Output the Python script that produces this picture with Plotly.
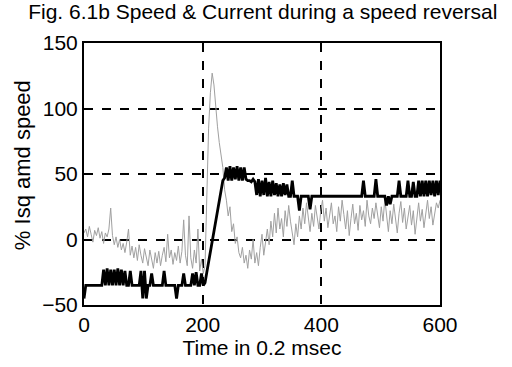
import plotly.graph_objects as go

# time axis in 0.2 msec steps (sampled every 3 units)
time = list(range(0, 601, 3))

speed = [
    -45, -35, -35, -35, -35, -35, -35, -35, -35, -35, -35,
    -23, -35, -22, -35, -23, -35, -23, -35, -22, -35, -23,
    -35, -24, -35, -35, -24, -35, -35, -35, -35, -35,
    -24, -45, -24, -45, -35, -35, -26, -35,
    -35, -35, -35, -35, -35, -24, -35,
    -35, -35, -35, -35, -35, -45, -35,
    -35, -35, -26, -35, -35, -35, -35, -26, -35, -25, -35, -35, -26, -35, -33,
    -25, -17, -9, -1, 7, 16, 24, 32, 39, 45,
    47, 55, 45, 56, 45, 55, 46, 56, 45, 55, 45, 55, 46, 45,
    45, 44, 46, 44,
    34, 46, 33, 45, 34, 47, 33, 44, 33, 45, 34, 43, 33, 42, 33, 43, 34, 42, 33,
    33, 45, 33, 33, 33, 22, 33, 33, 33, 33, 33, 23, 33, 33, 33, 33, 33, 33, 33, 33, 33,
    33, 33, 33, 33, 33, 33, 33, 33, 33, 33, 33, 33, 33, 33, 33, 33, 33, 33, 33, 33,
    45, 33, 33, 33, 33, 33, 33, 46, 33, 33, 33, 33, 33, 26, 33, 27, 33, 33, 33, 33, 45,
    33, 33, 33, 33, 45, 33, 33, 44, 33, 33, 45, 33,
    45, 33, 45, 33, 45, 34, 45, 33, 45, 34, 45, 45,
]

current = [
    5, 8, 2, 10, 4, -2, 7, 3, 9, 1, 6, -3, 5, 2,
    8, 24, 3, -4, 2, -6, 0, -8, -3, -10, -2, 8, -12, -5, -14, -6,
    -16, -4, -12, -18, -7, -14, -20, -8, -15, -22, -10,
    -18, -9, -20, -12, -6, -17, 4, -14, -8, -19, -10, -16, -5, -18, -9,
    15, -12, -20, 18, -14, -22, -8, -18, 8, -24, -15, -26, -20,
    40, 85, 112, 127, 118, 98, 86, 74, 64, 55, 38, 30, 18, 25, 6, 12,
    -3, 2, -10, -14, -6, -18, -12, -22, -8, -15, 0, -18, -10, -20, -6,
    4, -12, -2, 8, -4, 14, 2, 20, 5, 24, 8, 16, 2, 22, 10, 26, 14,
    4, -4, 12, 2, 18, 8, 24, 12, 28, 15, 6, 20, 10, 26, 16, 8, 22,
    30, 14, 24, 9, 20, 28, 12, 18, 6, 25, 14, 30, 19, 8, 22, 3, 16,
    27, 12, 20, 7, 26, 15, 22, 10, 30, 18, 12, 24, 16, 28, 20, 9, 25,
    14, 31, 18, 6, 22, 12, 27, 17, 5, 20, 29, 13, 24, 8, 18, 26, 11,
    22, 4, 19, 28, 14, 23, 9, 20, 30, 16, 25, 11, 21, 28, 24, 30,
]

x_ticks = [0, 200, 400, 600]
y_ticks = [-50, 0, 50, 100, 150]

fig = go.Figure()
fig.add_trace(go.Scatter(x=time, y=current, mode="lines",
                         line=dict(color="#a0a0a0", width=1), showlegend=False))
fig.add_trace(go.Scatter(x=time, y=speed, mode="lines",
                         line=dict(color="black", width=2.8), showlegend=False))

fig.update_layout(
    width=512, height=367,
    margin=dict(l=84, r=72, t=43, b=62),
    paper_bgcolor="white", plot_bgcolor="white",
    font=dict(family="Liberation Sans, Arial, sans-serif", color="black"),
    title=dict(text="Fig. 6.1b Speed & Current during a speed reversal",
               x=0.055, xanchor="left", y=0.988, yanchor="top",
               font=dict(size=21, color="black")),
    annotations=[dict(text="% Isq amd speed", xref="paper", yref="paper",
                      x=-0.174, y=0.534, xanchor="center", yanchor="middle",
                      textangle=-90, showarrow=False,
                      font=dict(size=22, color="black"))],
)
fig.update_xaxes(range=[0, 600], tickvals=x_ticks, ticks="", showline=True,
                 linecolor="black", linewidth=2, mirror=True, automargin=False,
                 showgrid=True, gridcolor="black", griddash="dash", gridwidth=1.5,
                 zeroline=False, tickfont=dict(size=21),
                 title=dict(text="Time in 0.2 msec", font=dict(size=21), standoff=2))
fig.update_yaxes(range=[-50, 150], tickvals=y_ticks, ticks="", showline=True,
                 linecolor="black", linewidth=2, mirror=True, automargin=False,
                 showgrid=True, gridcolor="black", griddash="dash", gridwidth=1.5,
                 zeroline=False, tickfont=dict(size=21))

fig.write_html("out.html", config={"displayModeBar": False},
               post_script="document.body.style.margin='0';")
